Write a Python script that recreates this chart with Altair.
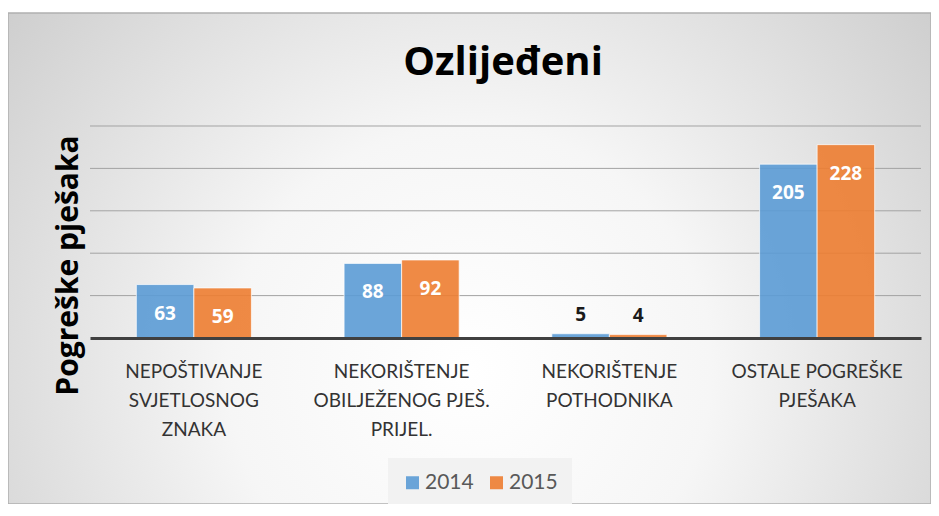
import altair as alt
import pandas as pd

categories = [
    "NEPOŠTIVANJE|SVJETLOSNOG|ZNAKA",
    "NEKORIŠTENJE|OBILJEŽENOG PJEŠ.|PRIJEL.",
    "NEKORIŠTENJE|POTHODNIKA",
    "OSTALE POGREŠKE|PJEŠAKA",
]
years = ["2014", "2015"]
values_2014 = [63, 88, 5, 205]
values_2015 = [59, 92, 4, 228]
gridlines = [50, 100, 150, 200, 250]
colors = ["#5B9BD5", "#ED7D31"]
chart_title = "Ozlijeđeni"
y_title = "Pogreške pješaka"

rows = []
for c, a, b in zip(categories, values_2014, values_2015):
    rows.append({"cat": c, "year": years[0], "value": a})
    rows.append({"cat": c, "year": years[1], "value": b})
df = pd.DataFrame(rows)

W, H = 831, 212

yscale = alt.Scale(domain=[0, 250], nice=False, zero=True)
y_axis = alt.Axis(
    title=y_title,
    labels=False,
    ticks=False,
    domain=False,
    grid=False,
    titleX=-13,
    titleY=139,
    titleAngle=270,
    titleAlign="center",
    titleBaseline="alphabetic",
    titleFont="Open Sans",
    titleFontSize=30,
    titleFontWeight="bold",
    titleColor="#000000",
    zindex=2,
)

x_enc = alt.X(
    "cat:N",
    sort=categories,
    scale=alt.Scale(paddingInner=0.446, paddingOuter=0.223),
    axis=alt.Axis(
        title=None,
        labelExpr="split(datum.label, '|')",
        labelAngle=0,
        labelFont="Lato",
        labelFontSize=19,
        labelColor="#333333",
        labelLineHeight=29,
        labelPadding=24,
        labelLimit=400,
        ticks=False,
        tickSize=0,
        grid=False,
        domainColor="#404040",
        domainWidth=3,
        zindex=1,
    ),
)
xoff = alt.XOffset("year:N", sort=years, scale=alt.Scale(paddingInner=0, paddingOuter=0))

bg = alt.Chart(alt.Data(values=[{}])).mark_rect(
    fill=alt.Gradient(
        gradient="radial",
        x1=0.5, y1=0.62, r1=0,
        x2=0.5, y2=0.62, r2=0.75,
        stops=[
            alt.GradientStop(offset=0, color="#ffffff"),
            alt.GradientStop(offset=0.35, color="#f6f6f6"),
            alt.GradientStop(offset=1, color="#c2c2c2"),
        ],
    ),
    stroke="#b0b0b0",
    strokeWidth=1.5,
).encode(
    x=alt.value(-82), x2=alt.value(841), y=alt.value(-113), y2=alt.value(378)
)

grid = alt.Chart(pd.DataFrame({"g": gridlines})).mark_rule(
    color="#a3a3a3", strokeWidth=1
).encode(y=alt.Y("g:Q", scale=yscale, axis=y_axis))

bars = alt.Chart(df).mark_bar(
    fillOpacity=0.9, stroke="#ffffff", strokeWidth=1, strokeOpacity=0.7
).encode(
    x=x_enc,
    xOffset=xoff,
    y=alt.Y("value:Q", scale=yscale, axis=y_axis),
    color=alt.Color(
        "year:N",
        scale=alt.Scale(domain=years, range=colors),
        legend=alt.Legend(
            title=None,
            orient="none",
            legendX=298,
            legendY=332,
            direction="horizontal",
            symbolType="square",
            symbolSize=169,
            symbolOpacity=0.9,
            symbolStrokeWidth=0,
            labelFont="Lato",
            labelFontSize=21,
            labelColor="#595959",
            fillColor="#f2f2f2",
            padding=14,
            columnPadding=12,
            labelOffset=2,
        ),
    ),
)

inside = alt.Chart(df).transform_filter("datum.value >= 20").mark_text(
    baseline="alphabetic", dy=35, font="Open Sans", fontSize=19,
    fontWeight="bold", color="#ffffff",
).encode(
    x=alt.X("cat:N", sort=categories),
    xOffset=xoff,
    y=alt.Y("value:Q", scale=yscale, axis=y_axis),
    text="value:Q",
)

outside = alt.Chart(df).transform_filter("datum.value < 20").mark_text(
    baseline="alphabetic", dy=-13, font="Open Sans", fontSize=19,
    fontWeight="bold", color="#1a1a1a",
).encode(
    x=alt.X("cat:N", sort=categories),
    xOffset=xoff,
    y=alt.Y("value:Q", scale=yscale, axis=y_axis),
    text="value:Q",
)

title = alt.Chart(alt.Data(values=[{}])).mark_text(
    text=chart_title, font="Open Sans", fontSize=40, fontWeight="bold",
    baseline="alphabetic", align="center", color="#000000",
).encode(x=alt.value(413), y=alt.value(-51))

chart = alt.layer(bg, grid, bars, inside, outside, title).properties(
    width=W,
    height=H,
    padding={"left": 82, "top": 118, "right": 10, "bottom": 166},
    autosize=alt.AutoSizeParams(type="none"),
    background="#ffffff",
).configure_view(strokeWidth=0)

chart.save("out.html", embed_options={"renderer": "svg", "actions": False})
